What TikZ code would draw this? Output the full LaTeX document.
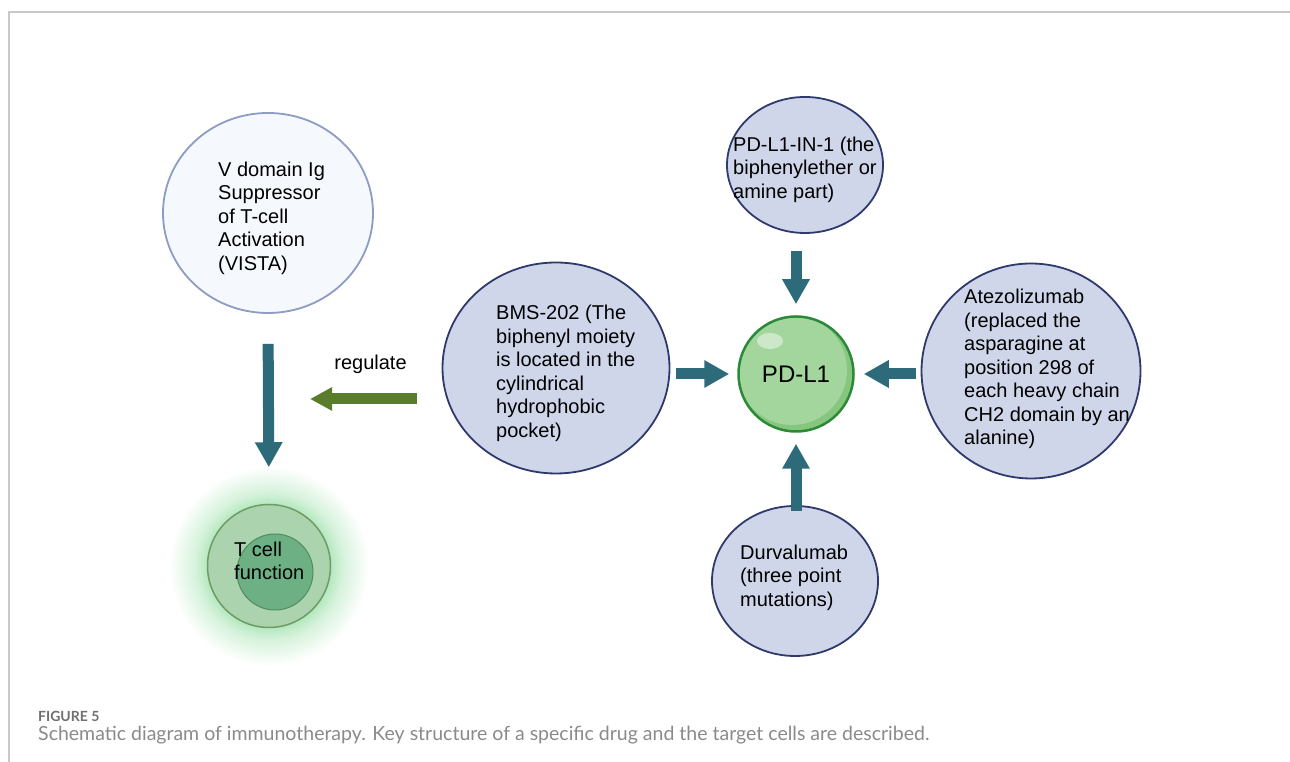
\documentclass[tikz,border=0pt]{standalone}
\usepackage{fontspec}
\setmainfont{Liberation Sans}
\newfontfamily\legende{Lato}
\usetikzlibrary{arrows.meta,shapes.geometric,backgrounds}

\definecolor{sarcelle}{HTML}{2D6B7B}
\definecolor{vertolive}{HTML}{5A7D2C}
\definecolor{lavande}{HTML}{D0D6EA}
\definecolor{marine}{HTML}{2E3A6B}
\definecolor{pale}{HTML}{F5F8FD}
\definecolor{bleugris}{HTML}{8D9CC3}
\definecolor{vertpd}{HTML}{A3D69C}
\definecolor{vertpdfonce}{HTML}{86C67E}
\definecolor{bordpd}{HTML}{2B8A38}
\definecolor{cellext}{HTML}{AAD3AE}
\definecolor{bordext}{HTML}{6E9B66}
\definecolor{cellint}{HTML}{6DB084}
\definecolor{bordint}{HTML}{508C5E}
\definecolor{halo}{HTML}{B5E8BF}
\definecolor{cadre}{HTML}{C8C8C8}
\definecolor{grisfigure}{HTML}{707070}
\definecolor{gristexte}{HTML}{8A8A8A}

\pgfdeclareradialshading{lueur}{\pgfpoint{0bp}{0bp}}{color(0bp)=(halo); color(15.5bp)=(halo); color(18.5bp)=(halo!55!white); color(25bp)=(white); color(50bp)=(white)}

\begin{document}
\begin{tikzpicture}[x=1pt,y=1pt]
	\tikzstyle{bulle}=[ellipse,draw=marine,fill=lavande,line width=1.8pt,inner sep=0pt]
	\tikzstyle{texte}=[anchor=west,align=left,inner sep=0pt,font=\fontsize{20}{23.5}\selectfont]
	\tikzstyle{fleche}=[line width=11pt,sarcelle,-{Triangle[length=25pt,width=26pt]}]
	\tikzstyle{flecheverte}=[line width=11pt,vertolive,-{Triangle[length=22pt,width=22pt]}]
	\tikzstyle{etiquette}=[inner sep=0pt,text=black,font=\fontsize{20}{23.5}\selectfont]
	
	\useasboundingbox (0,0) rectangle (1290,762);
	\draw[cadre,line width=1.5pt] (9,0) -- (9,750) -- (1290,750);
	
	\node[bulle,draw=bleugris,fill=pale,minimum width=210pt,minimum height=200pt] (V) at (268,549) {};
	\node[texte] (Vt) at (218,544) {V domain Ig\\Suppressor\\of T-cell\\Activation\\(VISTA)};
	
	\node[circle,draw=bordext,fill=cellext,line width=1.5pt,minimum size=123pt,inner sep=0pt] (T) at (269,196) {};
	\node[circle,draw=bordint,fill=cellint,line width=1pt,minimum size=76pt,inner sep=0pt] (Ti) at (275,190) {};
	\node[texte] (Tt) at (234,201) {T cell\\function};
	\begin{scope}[on background layer]
		\shade[shading=lueur] (T.center) circle (100);
	\end{scope}
	
	\node[bulle,minimum width=227pt,minimum height=211pt] (B) at (556,394) {};
	\node[texte] (Bt) at (496,388.5) {BMS-202 (The\\biphenyl moiety\\is located in the\\cylindrical\\hydrophobic\\pocket)};
	
	\node[bulle,minimum width=156pt,minimum height=136pt] (I) at (805,597) {};
	\node[texte] (It) at (733,592.5) {PD-L1-IN-1 (the\\biphenylether or\\amine part)};
	
	\node[bulle,minimum width=219pt,minimum height=215pt] (A) at (1031,391) {};
	\node[texte] (At) at (964,393) {Atezolizumab\\(replaced the\\asparagine at\\position 298 of\\each heavy chain\\CH2 domain by an\\alanine)};
	
	\node[bulle,minimum width=166pt,minimum height=150pt] (D) at (795,181) {};
	\node[texte] (Dt) at (740,184.5) {Durvalumab\\(three point\\mutations)};
	
	\node[circle,draw=bordpd,fill=vertpdfonce,line width=2.5pt,minimum size=115pt,inner sep=0pt,font=\fontsize{24}{28}\selectfont,
		path picture={
			\fill[vertpd] ([shift={(-4,4)}]path picture bounding box.center) circle (55);
			\coordinate (hl) at ([shift={(-26,33)}]path picture bounding box.center);
			\fill[white,opacity=.45,rotate around={35:(hl)}] (hl) ellipse (13 and 8);
		}] (P) at (796,388) {PD-L1};
	
	\coordinate (reg) at (310,363);
	\draw[flecheverte,shorten <=24.5pt] (B.west |- reg) -- (reg) node[etiquette,pos=0.54,above=20pt] (R) {regulate};
	
	\draw[fleche,shorten <=30pt,shorten >=36.5pt] (V.south) -- (T.north);
	\draw[fleche,shorten <=5.5pt,shorten >=8pt] (B.east |- P.center) -- (P.west);
	\draw[fleche,shorten <=4.5pt,shorten >=9pt] (A.west |- P.center) -- (P.east);
	\draw[fleche,shorten <=17pt,shorten >=11pt] (I.south -| P.center) -- (P.north);
	\draw[fleche,shorten <=-6pt,shorten >=11pt] (D.north -| P.center) -- (P.south);
	
	\node[anchor=west,inner sep=0pt,text=grisfigure,font=\legende\bfseries\fontsize{14}{16}\selectfont] (F) at (38,46) {FIGURE 5};
	\node[anchor=west,inner sep=0pt,text=gristexte,font=\legende\fontsize{19.5}{22}\selectfont] (L) at (38,27) {Schematic diagram of immunotherapy. Key structure of a specific drug and the target cells are described.};
\end{tikzpicture}
\end{document}
